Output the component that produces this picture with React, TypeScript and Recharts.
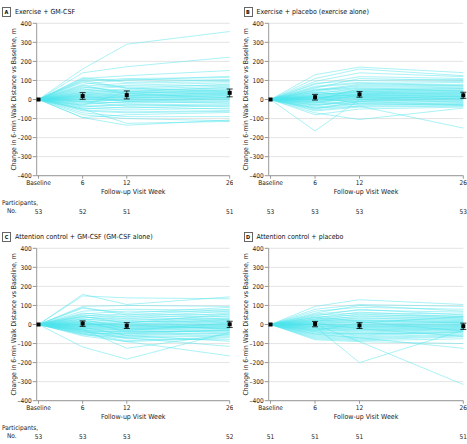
import React from 'react';
import { LineChart, Line, XAxis, YAxis, CartesianGrid, ErrorBar } from 'recharts';

const weeks = [0, 6, 12, 26];
const weekLabels = ['Baseline', '6', '12', '26'];
const yTicks = [-400, -300, -200, -100, 0, 100, 200, 300, 400];

// each row: change at week 6, 12, 26 (baseline is 0)
const exerciseGmcsf = [
  [160, 290, 357], [140, 172, 222], [110, 125, 152], [105, 100, 122], [95, 110, 115],
  [115, 90, 105], [80, 105, 100], [70, 85, 95], [60, 75, 88], [90, 60, 80],
  [50, 70, 75], [45, 55, 70], [65, 40, 65], [40, 50, 60], [35, 45, 55],
  [55, 30, 52], [30, 40, 48], [25, 35, 45], [20, 30, 40], [38, 20, 38],
  [15, 25, 35], [10, 20, 30], [28, 15, 28], [5, 18, 25], [12, 8, 22],
  [0, 12, 20], [22, 5, 15], [-5, 10, 12], [8, -5, 10], [-10, 0, 8],
  [18, -10, 5], [-15, 2, 0], [2, -8, -3], [-20, -15, -8], [-8, -20, -12],
  [-25, -10, -18], [-30, -30, -22], [-12, -35, -28], [-35, -45, -32], [-40, -25, -38],
  [-45, -55, -45], [-50, -40, -50], [-55, -65, -58], [-60, -70, -62], [-95, -80, -68],
  [-70, -90, -90], [-95, -135, -108], [-50, -125, -115], [-80, -100, -112], [100, 60, 40],
  [75, 30, 10], [-30, 40, 30],
];

const exercisePlacebo = [
  [130, 170, 141], [110, 160, 125], [95, 140, 120], [80, 120, 110], [85, 100, 105],
  [60, 110, 100], [70, 90, 95], [50, 80, 90], [45, 75, 80], [40, 65, 70],
  [55, 55, 65], [30, 60, 60], [35, 50, 55], [25, 45, 50], [20, 40, 48],
  [28, 35, 42], [15, 42, 40], [10, 30, 38], [18, 25, 35], [5, 32, 30],
  [12, 20, 28], [0, 28, 25], [8, 15, 22], [-5, 22, 18], [2, 10, 15],
  [-10, 18, 12], [15, 5, 10], [-15, 12, 5], [-8, 0, 2], [-20, 8, -2],
  [-25, -5, -5], [3, -10, -8], [-30, -15, -12], [-35, 2, -15], [-40, -20, -18],
  [-45, -25, -22], [-12, -30, -25], [-50, -10, -28], [-55, -35, -32], [-60, -40, -35],
  [-80, -50, -40], [-70, -105, -45], [-165, 0, 20], [-45, -35, -150], [22, 48, 58],
  [6, 38, 32], [-18, 26, 15], [38, 15, 3], [-2, 55, 45], [48, 70, 75],
  [-28, -8, 8], [14, -22, -30], [65, 85, 72],
];

const attentionGmcsf = [
  [158, 105, 145], [150, 140, 135], [95, 100, 95], [85, 60, 90], [90, 50, 80],
  [70, 80, 75], [60, 40, 70], [55, 70, 65], [50, 30, 60], [45, 55, 50],
  [40, 20, 45], [35, 45, 40], [30, 10, 35], [25, 35, 30], [20, 0, 28],
  [15, 25, 25], [10, -5, 20], [8, 15, 15], [5, -10, 12], [2, 5, 10],
  [0, -15, 5], [-2, -2, 2], [-5, -20, 0], [-8, -8, -3], [-10, -25, -5],
  [-12, -12, -8], [-15, -30, -10], [-18, -18, -15], [-20, -35, -18], [-22, -28, -20],
  [-25, -40, -25], [-28, -45, -28], [-30, -50, -30], [-35, -38, -35], [-38, -55, -40],
  [-40, -60, -45], [-45, -48, -50], [-50, -65, -55], [-55, -70, -60], [-45, -85, -65],
  [-60, -90, -70], [-35, -75, -80], [-25, -125, -50], [-118, -182, -40], [-50, -90, -165],
  [-30, -70, -115], [12, -32, 8], [28, -22, -12], [-6, 12, 22], [18, -40, -32],
  [42, 8, 55], [-14, -58, -88], [3, -3, -22],
];

const attentionPlacebo = [
  [95, 130, 105], [80, 105, 95], [70, 90, 80], [60, 100, 70], [55, 75, 65],
  [50, 60, 55], [45, 80, 50], [40, 50, 45], [35, 65, 40], [30, 40, 38],
  [28, 55, 35], [25, 30, 30], [20, 45, 28], [18, 20, 25], [15, 35, 20],
  [12, 10, 18], [10, 25, 15], [8, 0, 12], [5, 15, 10], [2, -5, 5],
  [0, 5, 2], [-2, -10, 0], [-5, -2, -3], [-8, -15, -5], [-10, -8, -8],
  [-12, -20, -10], [-15, -12, -12], [-18, -25, -15], [-20, -30, -18], [-22, -18, -20],
  [-25, -35, -22], [-28, -40, -25], [-30, -28, -28], [-35, -45, -30], [-38, -50, -35],
  [-40, -55, -38], [-45, -60, -40], [-50, -48, -45], [-55, -65, -50], [-60, -70, -55],
  [-65, -75, -60], [-70, -80, -65], [-75, -85, -75], [-80, -90, -100], [-50, -70, -125],
  [-10, -200, -30], [0, -90, -315], [22, 15, -35], [-32, 8, 42], [6, -22, -62],
  [38, 20, 8],
];

// mean change and 95% CI at weeks 0, 6, 12, 26
const meanA = [0, 18, 23, 35];
const lowA = [0, 1, 3, 14];
const highA = [0, 36, 45, 55];
const meanB = [0, 12, 27, 22];
const lowB = [0, -3, 12, 6];
const highB = [0, 27, 42, 38];
const meanC = [0, 5, -6, 1];
const lowC = [0, -10, -21, -16];
const highC = [0, 19, 10, 17];
const meanD = [0, 3, -5, -9];
const lowD = [0, -12, -21, -26];
const highD = [0, 16, 10, 7];

const countsA = [53, 52, 51, 51];
const countsB = [53, 53, 53, 53];
const countsC = [53, 53, 53, 52];
const countsD = [51, 51, 51, 51];

const FONT = "'Liberation Sans Narrow', 'DejaVu Sans Condensed', 'Roboto', sans-serif";
const LINE_COLOR = '#4de3ec';
const CHART_H = 216;

function buildRows(lines: number[][], mean: number[], low: number[], high: number[]) {
  return weeks.map((w, i) => {
    const row: Record<string, any> = { week: w, mean: mean[i] };
    lines.forEach((l, j) => {
      row['p' + j] = i === 0 ? 0 : l[i - 1];
    });
    if (i > 0) row.err = [mean[i] - low[i], high[i] - mean[i]];
    return row;
  });
}

const WeekTick = (props: any) => {
  const { x, y, payload, counts } = props;
  const idx = weeks.indexOf(payload.value);
  return (
    <g>
      <text x={x} y={y + 6.3} textAnchor="middle" fontSize={6.5} fill="#222" fontFamily={FONT}>
        {weekLabels[idx]}
      </text>
      <text x={x} y={y + 34.8} textAnchor="middle" fontSize={6.5} fill="#222" fontFamily={FONT}>
        {counts[idx]}
      </text>
    </g>
  );
};

const MeanDot = (props: any) => {
  const { cx, cy, index } = props;
  if (cx == null || cy == null) return <g key={index} />;
  return <rect key={index} x={cx - 2} y={cy - 2} width={4} height={4} fill="#000" />;
};

interface PanelProps {
  left: number;
  top: number;
  width: number;
  rightPad: number;
  letter: string;
  title: string;
  titleLeft: number;
  lines: number[][];
  mean: number[];
  low: number[];
  high: number[];
  counts: number[];
  showParticipants: boolean;
}

const Panel: React.FC<PanelProps> = ({
  left, top, width, rightPad, letter, title, titleLeft, lines, mean, low, high, counts, showParticipants,
}) => {
  const rows = buildRows(lines, mean, low, high);
  return (
    <div style={{ position: 'absolute', left, top, width, height: CHART_H }}>
      <div
        style={{
          position: 'absolute', left: titleLeft - left, top: 6.5, display: 'flex', alignItems: 'center',
          fontFamily: FONT, fontSize: 7, color: '#111', whiteSpace: 'nowrap',
        }}
      >
        <span
          style={{
            display: 'inline-block', width: 7, height: 8, lineHeight: '8px', textAlign: 'center',
            border: '0.8px solid #666', fontWeight: 'bold', fontSize: 5.5, marginRight: 4,
          }}
        >
          {letter}
        </span>
        <span>{title}</span>
      </div>
      {showParticipants && (
        <div style={{ position: 'absolute', left: 2, top: 199, fontFamily: FONT, fontSize: 6.5, color: '#222', lineHeight: '8px' }}>
          <div>Participants,</div>
          <div style={{ paddingLeft: 5 }}>No.</div>
        </div>
      )}
      <LineChart width={width} height={CHART_H} data={rows} margin={{ top: 23.3, right: rightPad, left: 0, bottom: 0 }}>
        <CartesianGrid vertical={false} stroke="#dddddd" strokeWidth={0.8} />
        <XAxis
          dataKey="week"
          type="number"
          domain={[-0.25, 26]}
          ticks={weeks}
          interval={0}
          height={CHART_H - 23.3 - 152.4}
          tickSize={3}
          tickMargin={0}
          axisLine={{ stroke: '#999' }}
          tickLine={{ stroke: '#999' }}
          tick={(p: any) => <WeekTick {...p} counts={counts} />}
          label={{ value: 'Follow-up Visit Week', position: 'insideTop', offset: 13.5, fontSize: 7, fill: '#222', fontFamily: FONT }}
        />
        <YAxis
          type="number"
          domain={[-400, 400]}
          ticks={yTicks}
          interval={0}
          width={36.7}
          tickSize={4}
          tickMargin={1}
          axisLine={{ stroke: '#999' }}
          tickLine={{ stroke: '#999' }}
          tickFormatter={(v: number) => (v < 0 ? '\u2013' + Math.abs(v) : String(v))}
          tick={{ fontSize: 6.5, fill: '#222', fontFamily: FONT }}
          label={{
            value: 'Change in 6-min Walk Distance vs Baseline, m',
            angle: -90,
            position: 'insideLeft',
            offset: 14,
            fontSize: 6.8,
            fill: '#222',
            fontFamily: FONT,
            style: { textAnchor: 'middle' },
          }}
        />
        {lines.map((_l, j) => (
          <Line
            key={'p' + j}
            dataKey={'p' + j}
            stroke={LINE_COLOR}
            strokeWidth={0.6}
            strokeOpacity={0.8}
            dot={false}
            activeDot={false}
            isAnimationActive={false}
          />
        ))}
        <Line dataKey="mean" stroke="none" dot={MeanDot} activeDot={false} isAnimationActive={false}>
          <ErrorBar dataKey="err" width={3} stroke="#000" strokeWidth={0.8} direction="y" isAnimationActive={false} />
        </Line>
      </LineChart>
    </div>
  );
};

export default function App() {
  return (
    <div style={{ position: 'absolute', left: 0, top: 0, width: 467, height: 444, background: '#fff', overflow: 'hidden' }}>
      <Panel
        left={0} top={0} width={233} rightPad={3.3} letter="A" title="Exercise + GM-CSF" titleLeft={2}
        lines={exerciseGmcsf} mean={meanA} low={lowA} high={highA} counts={countsA} showParticipants
      />
      <Panel
        left={232} top={0} width={235} rightPad={3.7} letter="B" title="Exercise + placebo (exercise alone)" titleLeft={243.5}
        lines={exercisePlacebo} mean={meanB} low={lowB} high={highB} counts={countsB} showParticipants={false}
      />
      <Panel
        left={0} top={225} width={233} rightPad={3.3} letter="C" title="Attention control + GM-CSF (GM-CSF alone)" titleLeft={2}
        lines={attentionGmcsf} mean={meanC} low={lowC} high={highC} counts={countsC} showParticipants
      />
      <Panel
        left={232} top={225} width={235} rightPad={3.7} letter="D" title="Attention control + placebo" titleLeft={243.5}
        lines={attentionPlacebo} mean={meanD} low={lowD} high={highD} counts={countsD} showParticipants={false}
      />
    </div>
  );
}
